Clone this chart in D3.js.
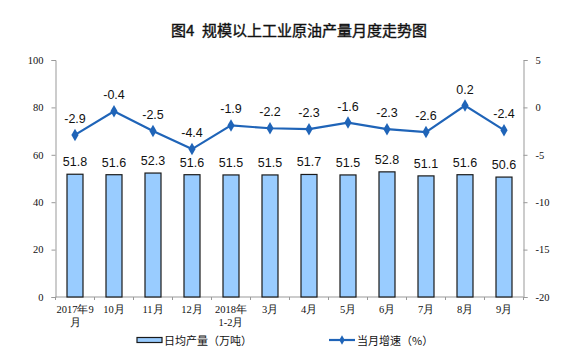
<!DOCTYPE html>
<html><head><meta charset="utf-8">
<script src="https://cdn.jsdelivr.net/npm/d3@7"></script>
<style>body{margin:0;background:#fff}svg{display:block}</style>
</head><body>
<svg id="c" width="580" height="364"></svg>
<script>
const categories = [["2017年9","月"],["10月"],["11月"],["12月"],["2018年","1-2月"],["3月"],["4月"],["5月"],["6月"],["7月"],["8月"],["9月"]];
const output = [51.8,51.6,52.3,51.6,51.5,51.5,51.7,51.5,52.8,51.1,51.6,50.6];
const growth = [-2.9,-0.4,-2.5,-4.4,-1.9,-2.2,-2.3,-1.6,-2.3,-2.6,0.2,-2.4];
const leftTicks = [0,20,40,60,80,100];
const rightTicks = [-20,-15,-10,-5,0,5];
const title = "图4\u2002规模以上工业原油产量月度走势图";
const legendNames = ["日均产量（万吨）","当月增速（%）"];

const svg = d3.select("#c");
const L=55.5, R=523.5, T=60, B=297;
const x = d3.scaleBand().domain(d3.range(categories.length)).range([L,R]);
const yL = d3.scaleLinear().domain([0,100]).range([B,T]);
const yR = d3.scaleLinear().domain([-20,5]).range([B,T]);
const serif = "'Liberation Serif','DejaVu Serif',serif";
const sans = "'Liberation Sans',Arial,'Noto Sans CJK SC',sans-serif";
const cjk = "'Noto Sans CJK SC',sans-serif";

svg.append("text").attr("x",299).attr("y",35.5).attr("text-anchor","middle")
  .attr("font-family",cjk).attr("font-size",15).attr("fill","#111")
  .attr("stroke","#111").attr("stroke-width",0.4).text(title);

// left axis
const gL = svg.append("g").attr("transform",`translate(${L},0)`)
  .call(d3.axisLeft(yL).tickValues(leftTicks).tickFormat(d=>String(d)).tickSize(4).tickPadding(8));
// right axis
const gR = svg.append("g").attr("transform",`translate(${R},0)`)
  .call(d3.axisRight(yR).tickValues(rightTicks).tickFormat(d=>String(d)).tickSize(4).tickPadding(8));
[gL,gR].forEach(g=>{
  g.select(".domain").attr("stroke","#999");
  g.selectAll(".tick line").attr("stroke","#999");
  g.selectAll(".tick text").attr("font-family",serif).attr("font-size",10.5).attr("fill","#111");
});
// bottom axis
const gB = svg.append("g").attr("transform",`translate(0,${B})`);
gB.append("line").attr("x1",L).attr("x2",R).attr("stroke","#999");
gB.selectAll(".bt").data(d3.range(categories.length+1)).join("line")
  .attr("x1",i=>L+i*x.step()).attr("x2",i=>L+i*x.step()).attr("y1",0).attr("y2",3).attr("stroke","#999");
gB.selectAll(".cl").data(categories).join("text")
  .attr("x",(d,i)=>x(i)+x.bandwidth()/2).attr("y",16)
  .attr("text-anchor","middle").attr("font-family",serif).attr("font-size",10.5).attr("fill","#111")
  .each(function(d){ const sx=d3.select(this).attr("x");
     d3.select(this).selectAll("tspan").data(d).join("tspan")
     .attr("x",sx).attr("dy",(s,j)=>j?13:0).text(s=>s); });

// bars
const bw=16;
svg.selectAll(".bar").data(output).join("rect")
  .attr("x",(d,i)=>x(i)+x.bandwidth()/2-bw/2).attr("width",bw)
  .attr("y",d=>yL(d)).attr("height",d=>B-yL(d))
  .attr("fill","#99ccff").attr("stroke","#1a1a1a").attr("stroke-width",1.2);
svg.selectAll(".bl").data(output).join("text")
  .attr("x",(d,i)=>x(i)+x.bandwidth()/2).attr("y",d=>yL(d)-8)
  .attr("text-anchor","middle").attr("font-family",sans).attr("font-size",12.5).attr("fill","#111")
  .text(d=>d.toFixed(1));

// line
const line = d3.line().x((d,i)=>x(i)+x.bandwidth()/2).y(d=>yR(d));
svg.append("path").datum(growth).attr("d",line).attr("fill","none").attr("stroke","#1f64b8").attr("stroke-width",2.2);
const diamond = d3.symbol().type(d3.symbolDiamond).size(45);
svg.selectAll(".pt").data(growth).join("path").attr("d",diamond)
  .attr("transform",(d,i)=>`translate(${x(i)+x.bandwidth()/2},${yR(d)})`).attr("fill","#1f64b8");
svg.selectAll(".ll").data(growth).join("text")
  .attr("x",(d,i)=>x(i)+x.bandwidth()/2).attr("y",d=>yR(d)-12)
  .attr("text-anchor","middle").attr("font-family",sans).attr("font-size",12.5).attr("fill","#111")
  .text(d=>d.toFixed(1));

// legend
const lg = svg.append("g");
lg.append("rect").attr("x",137).attr("y",337.5).attr("width",25).attr("height",5).attr("fill","#99ccff").attr("stroke","#1a1a1a").attr("stroke-width",1.2);
lg.append("text").attr("x",164).attr("y",345).attr("font-family",cjk).attr("font-size",11).attr("fill","#111").text(legendNames[0]);
lg.append("line").attr("x1",329).attr("x2",355).attr("y1",340).attr("y2",340).attr("stroke","#1f64b8").attr("stroke-width",2.2);
lg.append("path").attr("d",d3.symbol().type(d3.symbolDiamond).size(25)).attr("transform","translate(342,340)").attr("fill","#1f64b8");
lg.append("text").attr("x",357).attr("y",345).attr("font-family",cjk).attr("font-size",11).attr("fill","#111").text(legendNames[1]);
</script>
</body></html>
